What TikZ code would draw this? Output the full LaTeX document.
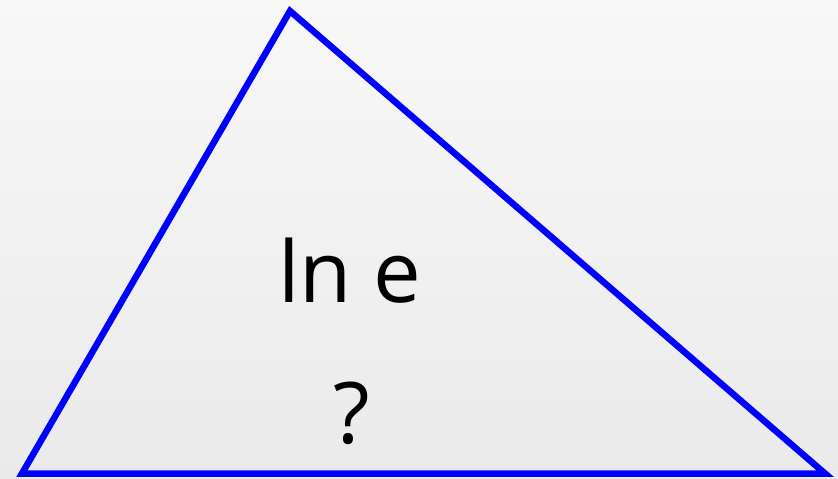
\documentclass[tikz,border=0pt]{standalone}
\usepackage{fontspec}
\setmainfont{Open Sans}
\usepackage{tikz}
\usetikzlibrary{calc}
\definecolor{bgtop}{HTML}{F8F8F8}
\definecolor{bgbottom}{HTML}{EAEAEA}
\definecolor{edgeblue}{HTML}{0000FF}

\begin{document}
\begin{tikzpicture}[x=1pt, y=-1pt]
    % Background
    \shade[top color=bgtop, bottom color=bgbottom] (0,0) rectangle (838,479);
    \useasboundingbox (0,0) rectangle (838,479);

    % Coordinates
    \coordinate (A) at (22,473.5);
    \coordinate (B) at (825,473.5);
    \coordinate (C) at (290,11);

    % Triangle
    \draw[line width=6.5pt, color=edgeblue, line join=miter] (A) -- (B) -- (C) -- cycle;

    % Labels
    \node[anchor=base, font=\fontsize{85}{90}\selectfont] (lne) at (350,302) {ln e};
    \node[anchor=base, font=\fontsize{85}{90}\selectfont] (ask) at (352,443) {?};
\end{tikzpicture}
\end{document}
